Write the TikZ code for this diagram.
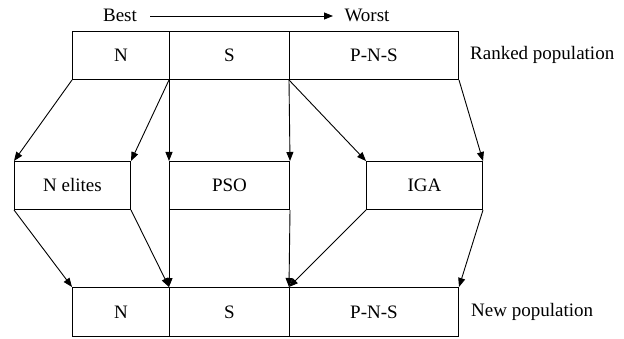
\documentclass[tikz,border=0pt]{standalone}
\usepackage{fontspec}
\setmainfont{Liberation Serif}
\usetikzlibrary{arrows.meta}
\begin{document}
\begin{tikzpicture}[x=1pt,y=-1pt,
  cell/.style={draw,line width=1pt,inner sep=0pt,anchor=north west,font=\fontsize{19}{22}\selectfont},
  lbl/.style={inner sep=0pt,font=\fontsize{19}{22}\selectfont},
  flow/.style={line width=0.9pt,-{Triangle[length=9pt,width=7pt]}}]
\useasboundingbox (0,0) rectangle (624,339);
% ranked population row
\node[cell,minimum width=97pt,minimum height=48pt] (t1) at (72,31) {N};
\node[cell,minimum width=120pt,minimum height=48pt] (t2) at (169,31) {S};
\node[cell,minimum width=169pt,minimum height=48pt] (t3) at (289,31) {P-N-S};
% operators
\node[cell,minimum width=116pt,minimum height=48pt] (m1) at (14,161) {N elites};
\node[cell,minimum width=120pt,minimum height=48pt] (m2) at (169,161) {PSO};
\node[cell,minimum width=116pt,minimum height=48pt] (m3) at (366,161) {IGA};
% new population row
\node[cell,minimum width=97pt,minimum height=49pt] (b1) at (72,287) {N};
\node[cell,minimum width=120pt,minimum height=49pt] (b2) at (169,287) {S};
\node[cell,minimum width=169pt,minimum height=49pt] (b3) at (289,287) {P-N-S};
% labels
\node[lbl] (best) at (120,15) {Best};
\node[lbl] (worst) at (367,15) {Worst};
\node[lbl,anchor=west] (rank) at (470,55) {Ranked population};
\node[lbl,anchor=west] (newp) at (471,312) {New population};
\coordinate (bs) at (150,16);
\coordinate (we) at (333,16);
\draw[flow] (bs) -- (we);
% ranked -> operators
\draw[flow] (t1.south west) -- (m1.north west);
\draw[flow] (t2.south west) -- (m1.north east);
\draw[flow] (t2.south west) -- (m2.north west);
\draw[flow] (t3.south west) -- (m2.north east);
\draw[flow] (t3.south west) -- (m3.north west);
\draw[flow] (t3.south east) -- (m3.north east);
% operators -> new population
\draw[flow] (m1.south west) -- (b1.north west);
\draw[flow] (m1.south east) -- (b2.north west);
\draw[flow] (m2.south west) -- (b2.north west);
\draw[flow] (m2.south east) -- (b3.north west);
\draw[flow] (m3.south west) -- (b3.north west);
\draw[flow] (m3.south east) -- (b3.north east);
\end{tikzpicture}
\end{document}
